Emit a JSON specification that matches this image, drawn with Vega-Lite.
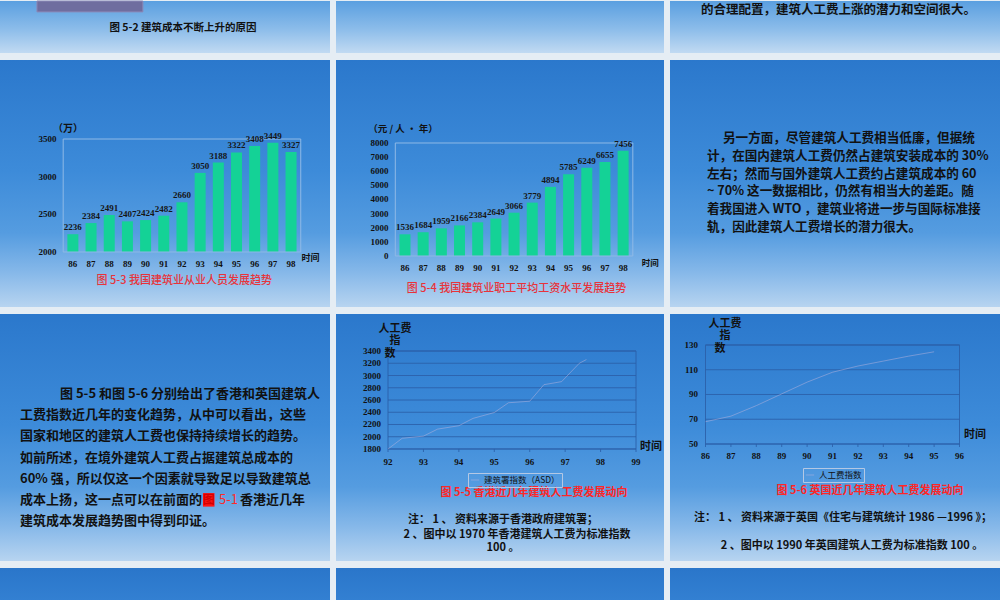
{
  "$schema": "https://vega.github.io/schema/vega-lite/v6.json",
  "background": "#e5edf4",
  "padding": 0,
  "spacing": 7,
  "config": {
    "view": {"stroke": null},
    "text": {"font": "Noto Sans CJK SC"}
  },
  "resolve": {"scale": {"color": "independent", "x": "independent", "y": "independent"}, "legend": {"color": "independent"}},
  "datasets": {
    "workers": [{"year":86,"value":2236},{"year":87,"value":2384},{"year":88,"value":2491},{"year":89,"value":2407},{"year":90,"value":2424},{"year":91,"value":2482},{"year":92,"value":2660},{"year":93,"value":3050},{"year":94,"value":3188},{"year":95,"value":3322},{"year":96,"value":3408},{"year":97,"value":3449},{"year":98,"value":3327}],
    "wages": [{"year":86,"value":1536},{"year":87,"value":1684},{"year":88,"value":1959},{"year":89,"value":2166},{"year":90,"value":2384},{"year":91,"value":2649},{"year":92,"value":3066},{"year":93,"value":3779},{"year":94,"value":4894},{"year":95,"value":5785},{"year":96,"value":6249},{"year":97,"value":6655},{"year":98,"value":7456}],
    "workersTicks": [{"tick":2000},{"tick":2500},{"tick":3000},{"tick":3500}],
    "wagesTicks": [{"tick":0},{"tick":1000},{"tick":2000},{"tick":3000},{"tick":4000},{"tick":5000},{"tick":6000},{"tick":7000},{"tick":8000}],
    "hk": [{"year":92.0,"index":1800},{"year":92.4,"index":1975},{"year":93.0,"index":2010},{"year":93.4,"index":2125},{"year":94.0,"index":2180},{"year":94.4,"index":2300},{"year":95.0,"index":2395},{"year":95.4,"index":2555},{"year":96.0,"index":2580},{"year":96.4,"index":2850},{"year":96.9,"index":2900},{"year":97.4,"index":3200},{"year":97.6,"index":3260}],
    "uk": [{"year":86,"index":68},{"year":87,"index":72.5},{"year":88,"index":81},{"year":89,"index":90.5},{"year":90,"index":100},{"year":91,"index":108},{"year":92,"index":113},{"year":93,"index":117},{"year":94,"index":121},{"year":95,"index":124.5}],
    "hkgrid": [{"v":1800},{"v":2000},{"v":2200},{"v":2400},{"v":2600},{"v":2800},{"v":3000},{"v":3200},{"v":3400}],
    "ukgrid": [{"v":50},{"v":70},{"v":90},{"v":110},{"v":130}],
    "hkyears": [{"year":92},{"year":93},{"year":94},{"year":95},{"year":96},{"year":97},{"year":98},{"year":99}],
    "ukyears": [{"year":86},{"year":87},{"year":88},{"year":89},{"year":90},{"year":91},{"year":92},{"year":93},{"year":94},{"year":95},{"year":96}],
    "textA1": [{"line":1,"text":"另一方面，尽管建筑人工费相当低廉，但据统"}],
    "textA": [
      {"line":2,"text":"计，在国内建筑人工费仍然占建筑安装成本的 30%"},
      {"line":3,"text":"左右；然而与国外建筑人工费约占建筑成本的 60"},
      {"line":4,"text":"~ 70% 这一数据相比，仍然有相当大的差距。随"},
      {"line":5,"text":"着我国进入 WTO ，建筑业将进一步与国际标准接"},
      {"line":6,"text":"轨，因此建筑人工费增长的潜力很大。"}
    ],
    "textB1": [{"line":1,"text":"图 5-5 和图 5-6 分别给出了香港和英国建筑人"}],
    "textB": [
      {"line":2,"text":"工费指数近几年的变化趋势，从中可以看出，这些"},
      {"line":3,"text":"国家和地区的建筑人工费也保持持续增长的趋势。"},
      {"line":4,"text":"如前所述，在境外建筑人工费占据建筑总成本的"},
      {"line":5,"text":"60% 强，所以仅这一个因素就导致足以导致建筑总"},
      {"line":6,"text":"成本上扬，这一点可以在前面的"},
      {"line":7,"text":"建筑成本发展趋势图中得到印证。"}
    ]
  },
  "vconcat": [
    {
      "bounds": "flush",
      "spacing": 6,
      "resolve": {"scale": {"color": "independent", "x": "independent", "y": "independent"}, "legend": {"color": "independent"}},
      "hconcat": [
        {
          "width": 330, "height": 52,
          "view": {"stroke": null, "fill": {"gradient": "linear", "x1": 0, "y1": 0, "x2": 0, "y2": 1, "stops": [{"offset": 0, "color": "#5a9fe0"}, {"offset": 0.55, "color": "#8dbdea"}, {"offset": 1, "color": "#c1daf2"}]}},
          "layer": [
            {
              "data": {"values": [{}]},
              "mark": {"type": "rect", "fill": "#6f6d9f", "stroke": "#8b89b8", "strokeWidth": 1},
              "encoding": {
                "x": {"datum": 0.112, "type": "quantitative", "scale": {"domain": [0, 1], "nice": false, "zero": false}, "axis": null},
                "x2": {"datum": 0.433},
                "y": {"datum": 0, "type": "quantitative", "scale": {"domain": [0, 1], "nice": false, "zero": false, "reverse": true}, "axis": null},
                "y2": {"datum": 0.21}
              }
            },
            {
              "data": {"values": [{"text": "图 5-2  建筑成本不断上升的原因"}]},
              "mark": {"type": "text", "fontSize": 10.5, "fontWeight": "bold", "color": "#111111", "align": "center", "baseline": "middle"},
              "encoding": {
                "x": {"datum": 0.5545, "type": "quantitative", "scale": {"domain": [0, 1], "nice": false, "zero": false}, "axis": null},
                "y": {"datum": 0.519, "type": "quantitative", "scale": {"domain": [0, 1], "nice": false, "zero": false, "reverse": true}, "axis": null},
                "text": {"field": "text"}
              }
            }
          ]
        },
        {
          "width": 328, "height": 52,
          "view": {"stroke": null, "fill": {"gradient": "linear", "x1": 0, "y1": 0, "x2": 0, "y2": 1, "stops": [{"offset": 0, "color": "#5a9fe0"}, {"offset": 0.55, "color": "#8dbdea"}, {"offset": 1, "color": "#c1daf2"}]}},
          "data": {"values": [{}]},
          "mark": {"type": "point", "opacity": 0},
          "encoding": {}
        },
        {
          "width": 330, "height": 52,
          "view": {"stroke": null, "fill": {"gradient": "linear", "x1": 0, "y1": 0, "x2": 0, "y2": 1, "stops": [{"offset": 0, "color": "#5a9fe0"}, {"offset": 0.55, "color": "#8dbdea"}, {"offset": 1, "color": "#c1daf2"}]}},
          "data": {"values": [{"text": "的合理配置，建筑人工费上涨的潜力和空间很大。"}]},
          "mark": {"type": "text", "fontSize": 12.5, "fontWeight": "bold", "color": "#111111", "align": "left", "baseline": "middle"},
          "encoding": {
            "x": {"datum": 0.094, "type": "quantitative", "scale": {"domain": [0, 1], "nice": false, "zero": false}, "axis": null},
            "y": {"datum": 0.173, "type": "quantitative", "scale": {"domain": [0, 1], "nice": false, "zero": false, "reverse": true}, "axis": null},
            "text": {"field": "text"}
          }
        }
      ]
    },
    {
      "bounds": "flush",
      "spacing": 6,
      "resolve": {"scale": {"color": "independent", "x": "independent", "y": "independent"}, "legend": {"color": "independent"}},
      "hconcat": [
        {
          "width": 330, "height": 247,
          "view": {"stroke": null, "fill": {"gradient": "linear", "x1": 0, "y1": 0, "x2": 0, "y2": 1, "stops": [{"offset": 0, "color": "#2b78cc"}, {"offset": 0.45, "color": "#3d8bd9"}, {"offset": 0.7, "color": "#559ce0"}, {"offset": 0.86, "color": "#86b8e9"}, {"offset": 1, "color": "#b7d4f0"}]}},
          "data": {"name": "workers"},
          "layer": [
            {
              "mark": {"type": "bar", "size": 11, "color": "#14d296"},
              "encoding": {
                "x": {"field": "year", "type": "quantitative", "scale": {"domain": [82.267, 99.867], "nice": false, "zero": false}, "axis": null},
                "y": {"field": "value", "type": "quantitative", "scale": {"domain": [1269.9, 4548.7], "nice": false, "zero": false}, "axis": null},
                "y2": {"datum": 2000}
              }
            },
            {
              "data": {"values": [{}]},
              "mark": {"type": "rect", "fill": "transparent", "stroke": "#8fb9e6", "strokeWidth": 1},
              "encoding": {
                "x": {"datum": 85.467, "type": "quantitative", "scale": {"domain": [82.267, 99.867], "nice": false, "zero": false}, "axis": null},
                "x2": {"datum": 98.533},
                "y": {"datum": 2000, "type": "quantitative", "scale": {"domain": [1269.9, 4548.7], "nice": false, "zero": false}, "axis": null},
                "y2": {"datum": 3500}
              }
            },
            {
              "mark": {"type": "text", "font": "Liberation Serif", "fontWeight": "bold", "fontSize": 9, "color": "#161616", "baseline": "bottom", "dy": -2},
              "encoding": {
                "x": {"field": "year", "type": "quantitative", "scale": {"domain": [82.267, 99.867], "nice": false, "zero": false}, "axis": null},
                "y": {"field": "value", "type": "quantitative", "scale": {"domain": [1269.9, 4548.7], "nice": false, "zero": false}, "axis": null},
                "text": {"field": "value"}
              }
            },
            {
              "mark": {"type": "text", "font": "Liberation Serif", "fontWeight": "bold", "fontSize": 9, "color": "#111111", "baseline": "middle"},
              "encoding": {
                "x": {"field": "year", "type": "quantitative", "scale": {"domain": [82.267, 99.867], "nice": false, "zero": false}, "axis": null},
                "y": {"datum": 1840.6, "type": "quantitative", "scale": {"domain": [1269.9, 4548.7], "nice": false, "zero": false}, "axis": null},
                "text": {"field": "year"}
              }
            },
            {
              "data": {"name": "workersTicks"},
              "mark": {"type": "text", "font": "Liberation Serif", "fontWeight": "bold", "fontSize": 9, "color": "#111111", "align": "right", "baseline": "middle"},
              "encoding": {
                "x": {"datum": 85.094, "type": "quantitative", "scale": {"domain": [82.267, 99.867], "nice": false, "zero": false}, "axis": null},
                "y": {"field": "tick", "type": "quantitative", "scale": {"domain": [1269.9, 4548.7], "nice": false, "zero": false}, "axis": null},
                "text": {"field": "tick"}
              }
            },
            {
              "data": {"values": [{}]},
              "mark": {"type": "text", "text": "（万）", "fontSize": 10, "fontWeight": "bold", "color": "#111111", "baseline": "middle"},
              "encoding": {
                "x": {"datum": 85.73, "type": "quantitative", "scale": {"domain": [82.267, 99.867], "nice": false, "zero": false}, "axis": null},
                "y": {"datum": 3632.7, "type": "quantitative", "scale": {"domain": [1269.9, 4548.7], "nice": false, "zero": false}, "axis": null}
              }
            },
            {
              "data": {"values": [{}]},
              "mark": {"type": "text", "text": "时间", "fontSize": 9, "fontWeight": "bold", "color": "#111111", "baseline": "middle"},
              "encoding": {
                "x": {"datum": 99.07, "type": "quantitative", "scale": {"domain": [82.267, 99.867], "nice": false, "zero": false}, "axis": null},
                "y": {"datum": 1920, "type": "quantitative", "scale": {"domain": [1269.9, 4548.7], "nice": false, "zero": false}, "axis": null}
              }
            },
            {
              "data": {"values": [{}]},
              "mark": {"type": "text", "text": "图 5-3  我国建筑业从业人员发展趋势", "fontSize": 11, "fontWeight": 500, "color": "#e8333a", "baseline": "middle"},
              "encoding": {
                "x": {"datum": 92.13, "type": "quantitative", "scale": {"domain": [82.267, 99.867], "nice": false, "zero": false}, "axis": null},
                "y": {"datum": 1614.9, "type": "quantitative", "scale": {"domain": [1269.9, 4548.7], "nice": false, "zero": false}, "axis": null}
              }
            }
          ]
        },
        {
          "width": 328, "height": 247,
          "view": {"stroke": null, "fill": {"gradient": "linear", "x1": 0, "y1": 0, "x2": 0, "y2": 1, "stops": [{"offset": 0, "color": "#2b78cc"}, {"offset": 0.45, "color": "#3d8bd9"}, {"offset": 0.7, "color": "#559ce0"}, {"offset": 0.86, "color": "#86b8e9"}, {"offset": 1, "color": "#b7d4f0"}]}},
          "data": {"name": "wages"},
          "layer": [
            {
              "mark": {"type": "bar", "size": 11, "color": "#14d296"},
              "encoding": {
                "x": {"field": "year", "type": "quantitative", "scale": {"domain": [82.48, 99.973], "nice": false, "zero": false}, "axis": null},
                "y": {"field": "value", "type": "quantitative", "scale": {"domain": [-3610.6, 13876], "nice": false, "zero": false}, "axis": null},
                "y2": {"datum": 0}
              }
            },
            {
              "data": {"values": [{}]},
              "mark": {"type": "rect", "fill": "transparent", "stroke": "#8fb9e6", "strokeWidth": 1},
              "encoding": {
                "x": {"datum": 85.467, "type": "quantitative", "scale": {"domain": [82.48, 99.973], "nice": false, "zero": false}, "axis": null},
                "x2": {"datum": 98.533},
                "y": {"datum": 0, "type": "quantitative", "scale": {"domain": [-3610.6, 13876], "nice": false, "zero": false}, "axis": null},
                "y2": {"datum": 8000}
              }
            },
            {
              "mark": {"type": "text", "font": "Liberation Serif", "fontWeight": "bold", "fontSize": 9, "color": "#161616", "baseline": "bottom", "dy": -2},
              "encoding": {
                "x": {"field": "year", "type": "quantitative", "scale": {"domain": [82.48, 99.973], "nice": false, "zero": false}, "axis": null},
                "y": {"field": "value", "type": "quantitative", "scale": {"domain": [-3610.6, 13876], "nice": false, "zero": false}, "axis": null},
                "text": {"field": "value"}
              }
            },
            {
              "mark": {"type": "text", "font": "Liberation Serif", "fontWeight": "bold", "fontSize": 9, "color": "#111111", "baseline": "middle"},
              "encoding": {
                "x": {"field": "year", "type": "quantitative", "scale": {"domain": [82.48, 99.973], "nice": false, "zero": false}, "axis": null},
                "y": {"datum": -849.6, "type": "quantitative", "scale": {"domain": [-3610.6, 13876], "nice": false, "zero": false}, "axis": null},
                "text": {"field": "year"}
              }
            },
            {
              "data": {"name": "wagesTicks"},
              "mark": {"type": "text", "font": "Liberation Serif", "fontWeight": "bold", "fontSize": 9, "color": "#111111", "align": "right", "baseline": "middle"},
              "encoding": {
                "x": {"datum": 85.093, "type": "quantitative", "scale": {"domain": [82.48, 99.973], "nice": false, "zero": false}, "axis": null},
                "y": {"field": "tick", "type": "quantitative", "scale": {"domain": [-3610.6, 13876], "nice": false, "zero": false}, "axis": null},
                "text": {"field": "tick"}
              }
            },
            {
              "data": {"values": [{}]},
              "mark": {"type": "text", "text": "（元 / 人 · 年）", "fontSize": 9.5, "fontWeight": "bold", "color": "#111111", "baseline": "middle"},
              "encoding": {
                "x": {"datum": 85.89, "type": "quantitative", "scale": {"domain": [82.48, 99.973], "nice": false, "zero": false}, "axis": null},
                "y": {"datum": 8991, "type": "quantitative", "scale": {"domain": [-3610.6, 13876], "nice": false, "zero": false}, "axis": null}
              }
            },
            {
              "data": {"values": [{}]},
              "mark": {"type": "text", "text": "时间", "fontSize": 8.5, "fontWeight": "bold", "color": "#111111", "baseline": "middle"},
              "encoding": {
                "x": {"datum": 99.49, "type": "quantitative", "scale": {"domain": [82.48, 99.973], "nice": false, "zero": false}, "axis": null},
                "y": {"datum": -495.6, "type": "quantitative", "scale": {"domain": [-3610.6, 13876], "nice": false, "zero": false}, "axis": null}
              }
            },
            {
              "data": {"values": [{}]},
              "mark": {"type": "text", "text": "图 5-4  我国建筑业职工平均工资水平发展趋势", "fontSize": 11, "fontWeight": 500, "color": "#e8333a", "baseline": "middle"},
              "encoding": {
                "x": {"datum": 92.13, "type": "quantitative", "scale": {"domain": [82.48, 99.973], "nice": false, "zero": false}, "axis": null},
                "y": {"datum": -2336, "type": "quantitative", "scale": {"domain": [-3610.6, 13876], "nice": false, "zero": false}, "axis": null}
              }
            }
          ]
        },
        {
          "width": 330, "height": 247,
          "view": {"stroke": null, "fill": {"gradient": "linear", "x1": 0, "y1": 0, "x2": 0, "y2": 1, "stops": [{"offset": 0, "color": "#2b78cc"}, {"offset": 0.45, "color": "#3d8bd9"}, {"offset": 0.7, "color": "#559ce0"}, {"offset": 0.86, "color": "#86b8e9"}, {"offset": 1, "color": "#b7d4f0"}]}},
          "layer": [
            {
              "data": {"name": "textA1"},
              "mark": {"type": "text", "align": "left", "baseline": "middle", "fontSize": 12.6, "fontWeight": "bold", "color": "#111111"},
              "encoding": {
                "x": {"datum": 0.1606, "type": "quantitative", "scale": {"domain": [0, 1], "nice": false, "zero": false}, "axis": null},
                "y": {"field": "line", "type": "quantitative", "scale": {"domain": [-3.382, 10.494], "nice": false, "zero": false, "reverse": true}, "axis": null},
                "text": {"field": "text"}
              }
            },
            {
              "data": {"name": "textA"},
              "mark": {"type": "text", "align": "left", "baseline": "middle", "fontSize": 12.6, "fontWeight": "bold", "color": "#111111"},
              "encoding": {
                "x": {"datum": 0.112, "type": "quantitative", "scale": {"domain": [0, 1], "nice": false, "zero": false}, "axis": null},
                "y": {"field": "line", "type": "quantitative", "scale": {"domain": [-3.382, 10.494], "nice": false, "zero": false, "reverse": true}, "axis": null},
                "text": {"field": "text"}
              }
            }
          ]
        }
      ]
    },
    {
      "bounds": "flush",
      "spacing": 6,
      "resolve": {"scale": {"color": "independent", "x": "independent", "y": "independent"}, "legend": {"color": "independent"}},
      "hconcat": [
        {
          "width": 330, "height": 247,
          "view": {"stroke": null, "fill": {"gradient": "linear", "x1": 0, "y1": 0, "x2": 0, "y2": 1, "stops": [{"offset": 0, "color": "#2b78cc"}, {"offset": 0.45, "color": "#3d8bd9"}, {"offset": 0.7, "color": "#559ce0"}, {"offset": 0.86, "color": "#86b8e9"}, {"offset": 1, "color": "#b7d4f0"}]}},
          "layer": [
            {
              "data": {"name": "textB1"},
              "mark": {"type": "text", "align": "left", "baseline": "middle", "fontSize": 13, "fontWeight": "bold", "color": "#111111"},
              "encoding": {
                "x": {"datum": 0.1818, "type": "quantitative", "scale": {"domain": [0, 1], "nice": false, "zero": false}, "axis": null},
                "y": {"field": "line", "type": "quantitative", "scale": {"domain": [-2.779, 8.889], "nice": false, "zero": false, "reverse": true}, "axis": null},
                "text": {"field": "text"}
              }
            },
            {
              "data": {"name": "textB"},
              "mark": {"type": "text", "align": "left", "baseline": "middle", "fontSize": 13, "fontWeight": "bold", "color": "#111111"},
              "encoding": {
                "x": {"datum": 0.0606, "type": "quantitative", "scale": {"domain": [0, 1], "nice": false, "zero": false}, "axis": null},
                "y": {"field": "line", "type": "quantitative", "scale": {"domain": [-2.779, 8.889], "nice": false, "zero": false, "reverse": true}, "axis": null},
                "text": {"field": "text"}
              }
            },
            {
              "data": {"values": [{}]},
              "mark": {"type": "rect", "fill": "#ff1414"},
              "encoding": {
                "x": {"datum": 0.615, "type": "quantitative", "scale": {"domain": [0, 1], "nice": false, "zero": false}, "axis": null},
                "x2": {"datum": 0.65},
                "y": {"datum": 5.68, "type": "quantitative", "scale": {"domain": [-2.779, 8.889], "nice": false, "zero": false, "reverse": true}, "axis": null},
                "y2": {"datum": 6.32}
              }
            },
            {
              "data": {"values": [{"line": 6, "text": "图"}]},
              "mark": {"type": "text", "align": "center", "baseline": "middle", "fontSize": 12, "fontWeight": "bold", "color": "#d40000"},
              "encoding": {
                "x": {"datum": 0.6325, "type": "quantitative", "scale": {"domain": [0, 1], "nice": false, "zero": false}, "axis": null},
                "y": {"field": "line", "type": "quantitative", "scale": {"domain": [-2.779, 8.889], "nice": false, "zero": false, "reverse": true}, "axis": null},
                "text": {"field": "text"}
              }
            },
            {
              "data": {"values": [{"line": 6, "text": "5-1"}]},
              "mark": {"type": "text", "align": "left", "baseline": "middle", "fontSize": 13, "color": "#ff2a2a"},
              "encoding": {
                "x": {"datum": 0.6636, "type": "quantitative", "scale": {"domain": [0, 1], "nice": false, "zero": false}, "axis": null},
                "y": {"field": "line", "type": "quantitative", "scale": {"domain": [-2.779, 8.889], "nice": false, "zero": false, "reverse": true}, "axis": null},
                "text": {"field": "text"}
              }
            },
            {
              "data": {"values": [{"line": 6, "text": "香港近几年"}]},
              "mark": {"type": "text", "align": "left", "baseline": "middle", "fontSize": 13, "fontWeight": "bold", "color": "#111111"},
              "encoding": {
                "x": {"datum": 0.7273, "type": "quantitative", "scale": {"domain": [0, 1], "nice": false, "zero": false}, "axis": null},
                "y": {"field": "line", "type": "quantitative", "scale": {"domain": [-2.779, 8.889], "nice": false, "zero": false, "reverse": true}, "axis": null},
                "text": {"field": "text"}
              }
            }
          ]
        },
        {
          "width": 328, "height": 247,
          "view": {"stroke": null, "fill": {"gradient": "linear", "x1": 0, "y1": 0, "x2": 0, "y2": 1, "stops": [{"offset": 0, "color": "#2b78cc"}, {"offset": 0.45, "color": "#3d8bd9"}, {"offset": 0.7, "color": "#559ce0"}, {"offset": 0.86, "color": "#86b8e9"}, {"offset": 1, "color": "#b7d4f0"}]}},
          "layer": [
            {
              "data": {"name": "hkgrid"},
              "mark": {"type": "rule", "color": "#2b5fa8", "strokeWidth": 1, "opacity": 0.85},
              "encoding": {
                "x": {"datum": 92, "type": "quantitative", "scale": {"domain": [90.532, 99.79], "nice": false, "zero": false}, "axis": null},
                "x2": {"datum": 99},
                "y": {"field": "v", "type": "quantitative", "scale": {"domain": [-28.6, 4004.1], "nice": false, "zero": false}, "axis": null}
              }
            },
            {
              "data": {"values": [{}]},
              "mark": {"type": "rect", "fill": "transparent", "stroke": "#2b5fa8", "strokeWidth": 1, "opacity": 0.85},
              "encoding": {
                "x": {"datum": 92, "type": "quantitative", "scale": {"domain": [90.532, 99.79], "nice": false, "zero": false}, "axis": null},
                "x2": {"datum": 99},
                "y": {"datum": 1800, "type": "quantitative", "scale": {"domain": [-28.6, 4004.1], "nice": false, "zero": false}, "axis": null},
                "y2": {"datum": 3400}
              }
            },
            {
              "data": {"name": "hkyears"},
              "mark": {"type": "rule", "color": "#2b5fa8", "strokeWidth": 1, "opacity": 0.85},
              "encoding": {
                "x": {"field": "year", "type": "quantitative", "scale": {"domain": [90.532, 99.79], "nice": false, "zero": false}, "axis": null},
                "y": {"datum": 1800, "type": "quantitative", "scale": {"domain": [-28.6, 4004.1], "nice": false, "zero": false}, "axis": null},
                "y2": {"datum": 1751}
              }
            },
            {
              "data": {"name": "hk"},
              "mark": {"type": "line", "strokeWidth": 1, "opacity": 0.45},
              "encoding": {
                "x": {"field": "year", "type": "quantitative", "scale": {"domain": [90.532, 99.79], "nice": false, "zero": false}, "axis": null},
                "y": {"field": "index", "type": "quantitative", "scale": {"domain": [-28.6, 4004.1], "nice": false, "zero": false}, "axis": null},
                "color": {"datum": "建筑署指数（ASD）", "type": "nominal", "scale": {"range": ["#c6b8de"]}, "legend": {"orient": "none", "legendX": 132, "legendY": 159, "title": null, "symbolType": "stroke", "symbolSize": 70, "symbolStrokeWidth": 1, "labelFont": "Noto Sans CJK SC", "labelFontSize": 8.5, "labelColor": "#111111", "strokeColor": "#b4c8e4", "padding": 2}}
              }
            },
            {
              "data": {"name": "hkyears"},
              "mark": {"type": "text", "font": "Liberation Serif", "fontWeight": "bold", "fontSize": 9, "color": "#111111", "baseline": "middle"},
              "encoding": {
                "x": {"field": "year", "type": "quantitative", "scale": {"domain": [90.532, 99.79], "nice": false, "zero": false}, "axis": null},
                "y": {"datum": 1587.7, "type": "quantitative", "scale": {"domain": [-28.6, 4004.1], "nice": false, "zero": false}, "axis": null},
                "text": {"field": "year"}
              }
            },
            {
              "data": {"name": "hkgrid"},
              "mark": {"type": "text", "font": "Liberation Serif", "fontWeight": "bold", "fontSize": 9, "color": "#111111", "align": "right", "baseline": "middle"},
              "encoding": {
                "x": {"datum": 91.802, "type": "quantitative", "scale": {"domain": [90.532, 99.79], "nice": false, "zero": false}, "axis": null},
                "y": {"field": "v", "type": "quantitative", "scale": {"domain": [-28.6, 4004.1], "nice": false, "zero": false}, "axis": null},
                "text": {"field": "v"}
              }
            },
            {
              "data": {"values": [{}]},
              "mark": {"type": "text", "text": "人工费", "fontSize": 11, "fontWeight": "bold", "color": "#111111", "baseline": "middle"},
              "encoding": {
                "x": {"datum": 92.197, "type": "quantitative", "scale": {"domain": [90.532, 99.79], "nice": false, "zero": false}, "axis": null},
                "y": {"datum": 3759.2, "type": "quantitative", "scale": {"domain": [-28.6, 4004.1], "nice": false, "zero": false}, "axis": null}
              }
            },
            {
              "data": {"values": [{}]},
              "mark": {"type": "text", "text": "指", "fontSize": 11, "fontWeight": "bold", "color": "#111111", "baseline": "middle"},
              "encoding": {
                "x": {"datum": 92.197, "type": "quantitative", "scale": {"domain": [90.532, 99.79], "nice": false, "zero": false}, "axis": null},
                "y": {"datum": 3563.3, "type": "quantitative", "scale": {"domain": [-28.6, 4004.1], "nice": false, "zero": false}, "axis": null}
              }
            },
            {
              "data": {"values": [{}]},
              "mark": {"type": "text", "text": "数", "fontSize": 11, "fontWeight": "bold", "color": "#111111", "baseline": "middle"},
              "encoding": {
                "x": {"datum": 92.056, "type": "quantitative", "scale": {"domain": [90.532, 99.79], "nice": false, "zero": false}, "axis": null},
                "y": {"datum": 3351, "type": "quantitative", "scale": {"domain": [-28.6, 4004.1], "nice": false, "zero": false}, "axis": null}
              }
            },
            {
              "data": {"values": [{}]},
              "mark": {"type": "text", "text": "时间", "fontSize": 11, "fontWeight": "bold", "color": "#111111", "baseline": "middle"},
              "encoding": {
                "x": {"datum": 99.423, "type": "quantitative", "scale": {"domain": [90.532, 99.79], "nice": false, "zero": false}, "axis": null},
                "y": {"datum": 1832.6, "type": "quantitative", "scale": {"domain": [-28.6, 4004.1], "nice": false, "zero": false}, "axis": null}
              }
            },
            {
              "data": {"values": [{}]},
              "mark": {"type": "text", "text": "图 5-5  香港近几年建筑人工费发展动向", "fontSize": 11, "fontWeight": "bold", "color": "#ff2626", "baseline": "middle"},
              "encoding": {
                "x": {"datum": 96.12, "type": "quantitative", "scale": {"domain": [90.532, 99.79], "nice": false, "zero": false}, "axis": null},
                "y": {"datum": 1081.6, "type": "quantitative", "scale": {"domain": [-28.6, 4004.1], "nice": false, "zero": false}, "axis": null}
              }
            },
            {
              "data": {"values": [{}]},
              "mark": {"type": "text", "text": "注： 1 、 资料来源于香港政府建筑署；", "fontSize": 11, "fontWeight": "bold", "color": "#111111", "baseline": "middle"},
              "encoding": {
                "x": {"datum": 95.245, "type": "quantitative", "scale": {"domain": [90.532, 99.79], "nice": false, "zero": false}, "axis": null},
                "y": {"datum": 640.7, "type": "quantitative", "scale": {"domain": [-28.6, 4004.1], "nice": false, "zero": false}, "axis": null}
              }
            },
            {
              "data": {"values": [{}]},
              "mark": {"type": "text", "text": "2 、图中以 1970 年香港建筑人工费为标准指数", "fontSize": 11, "fontWeight": "bold", "color": "#111111", "baseline": "middle"},
              "encoding": {
                "x": {"datum": 95.64, "type": "quantitative", "scale": {"domain": [90.532, 99.79], "nice": false, "zero": false}, "axis": null},
                "y": {"datum": 395.8, "type": "quantitative", "scale": {"domain": [-28.6, 4004.1], "nice": false, "zero": false}, "axis": null}
              }
            },
            {
              "data": {"values": [{}]},
              "mark": {"type": "text", "text": "100 。", "fontSize": 11, "fontWeight": "bold", "color": "#111111", "baseline": "middle"},
              "encoding": {
                "x": {"datum": 95.245, "type": "quantitative", "scale": {"domain": [90.532, 99.79], "nice": false, "zero": false}, "axis": null},
                "y": {"datum": 183.6, "type": "quantitative", "scale": {"domain": [-28.6, 4004.1], "nice": false, "zero": false}, "axis": null}
              }
            }
          ]
        },
        {
          "width": 330, "height": 247,
          "view": {"stroke": null, "fill": {"gradient": "linear", "x1": 0, "y1": 0, "x2": 0, "y2": 1, "stops": [{"offset": 0, "color": "#2b78cc"}, {"offset": 0.45, "color": "#3d8bd9"}, {"offset": 0.7, "color": "#559ce0"}, {"offset": 0.86, "color": "#86b8e9"}, {"offset": 1, "color": "#b7d4f0"}]}},
          "layer": [
            {
              "data": {"name": "ukgrid"},
              "mark": {"type": "rule", "color": "#2b5fa8", "strokeWidth": 1, "opacity": 0.85},
              "encoding": {
                "x": {"datum": 86, "type": "quantitative", "scale": {"domain": [84.602, 97.594], "nice": false, "zero": false}, "axis": null},
                "x2": {"datum": 96},
                "y": {"field": "v", "type": "quantitative", "scale": {"domain": [-44.545, 155.05], "nice": false, "zero": false}, "axis": null}
              }
            },
            {
              "data": {"values": [{}]},
              "mark": {"type": "rect", "fill": "transparent", "stroke": "#2b5fa8", "strokeWidth": 1, "opacity": 0.85},
              "encoding": {
                "x": {"datum": 86, "type": "quantitative", "scale": {"domain": [84.602, 97.594], "nice": false, "zero": false}, "axis": null},
                "x2": {"datum": 96},
                "y": {"datum": 50, "type": "quantitative", "scale": {"domain": [-44.545, 155.05], "nice": false, "zero": false}, "axis": null},
                "y2": {"datum": 130}
              }
            },
            {
              "data": {"name": "ukyears"},
              "mark": {"type": "rule", "color": "#2b5fa8", "strokeWidth": 1, "opacity": 0.85},
              "encoding": {
                "x": {"field": "year", "type": "quantitative", "scale": {"domain": [84.602, 97.594], "nice": false, "zero": false}, "axis": null},
                "y": {"datum": 50, "type": "quantitative", "scale": {"domain": [-44.545, 155.05], "nice": false, "zero": false}, "axis": null},
                "y2": {"datum": 47.58}
              }
            },
            {
              "data": {"name": "uk"},
              "mark": {"type": "line", "strokeWidth": 1, "opacity": 0.45},
              "encoding": {
                "x": {"field": "year", "type": "quantitative", "scale": {"domain": [84.602, 97.594], "nice": false, "zero": false}, "axis": null},
                "y": {"field": "index", "type": "quantitative", "scale": {"domain": [-44.545, 155.05], "nice": false, "zero": false}, "axis": null},
                "color": {"datum": "人工费指数", "type": "nominal", "scale": {"range": ["#c6b8de"]}, "legend": {"orient": "none", "legendX": 133, "legendY": 154, "title": null, "symbolType": "stroke", "symbolSize": 70, "symbolStrokeWidth": 1, "labelFont": "Noto Sans CJK SC", "labelFontSize": 8.5, "labelColor": "#111111", "strokeColor": "#b4c8e4", "padding": 2}}
              }
            },
            {
              "data": {"name": "ukyears"},
              "mark": {"type": "text", "font": "Liberation Serif", "fontWeight": "bold", "fontSize": 9, "color": "#111111", "baseline": "middle"},
              "encoding": {
                "x": {"field": "year", "type": "quantitative", "scale": {"domain": [84.602, 97.594], "nice": false, "zero": false}, "axis": null},
                "y": {"datum": 40.3, "type": "quantitative", "scale": {"domain": [-44.545, 155.05], "nice": false, "zero": false}, "axis": null},
                "text": {"field": "year"}
              }
            },
            {
              "data": {"name": "ukgrid"},
              "mark": {"type": "text", "font": "Liberation Serif", "fontWeight": "bold", "fontSize": 9, "color": "#111111", "align": "right", "baseline": "middle"},
              "encoding": {
                "x": {"datum": 85.704, "type": "quantitative", "scale": {"domain": [84.602, 97.594], "nice": false, "zero": false}, "axis": null},
                "y": {"field": "v", "type": "quantitative", "scale": {"domain": [-44.545, 155.05], "nice": false, "zero": false}, "axis": null},
                "text": {"field": "v"}
              }
            },
            {
              "data": {"values": [{}]},
              "mark": {"type": "text", "text": "人工费", "fontSize": 11, "fontWeight": "bold", "color": "#111111", "baseline": "middle"},
              "encoding": {
                "x": {"datum": 86.77, "type": "quantitative", "scale": {"domain": [84.602, 97.594], "nice": false, "zero": false}, "axis": null},
                "y": {"datum": 147.21, "type": "quantitative", "scale": {"domain": [-44.545, 155.05], "nice": false, "zero": false}, "axis": null}
              }
            },
            {
              "data": {"values": [{}]},
              "mark": {"type": "text", "text": "指", "fontSize": 11, "fontWeight": "bold", "color": "#111111", "baseline": "middle"},
              "encoding": {
                "x": {"datum": 86.77, "type": "quantitative", "scale": {"domain": [84.602, 97.594], "nice": false, "zero": false}, "axis": null},
                "y": {"datum": 137.27, "type": "quantitative", "scale": {"domain": [-44.545, 155.05], "nice": false, "zero": false}, "axis": null}
              }
            },
            {
              "data": {"values": [{}]},
              "mark": {"type": "text", "text": "数", "fontSize": 11, "fontWeight": "bold", "color": "#111111", "baseline": "middle"},
              "encoding": {
                "x": {"datum": 86.573, "type": "quantitative", "scale": {"domain": [84.602, 97.594], "nice": false, "zero": false}, "axis": null},
                "y": {"datum": 126.77, "type": "quantitative", "scale": {"domain": [-44.545, 155.05], "nice": false, "zero": false}, "axis": null}
              }
            },
            {
              "data": {"values": [{}]},
              "mark": {"type": "text", "text": "时间", "fontSize": 11, "fontWeight": "bold", "color": "#111111", "baseline": "middle"},
              "encoding": {
                "x": {"datum": 96.61, "type": "quantitative", "scale": {"domain": [84.602, 97.594], "nice": false, "zero": false}, "axis": null},
                "y": {"datum": 57.27, "type": "quantitative", "scale": {"domain": [-44.545, 155.05], "nice": false, "zero": false}, "axis": null}
              }
            },
            {
              "data": {"values": [{}]},
              "mark": {"type": "text", "text": "图 5-6  英国近几年建筑人工费发展动向", "fontSize": 11, "fontWeight": "bold", "color": "#ff2626", "baseline": "middle"},
              "encoding": {
                "x": {"datum": 92.476, "type": "quantitative", "scale": {"domain": [84.602, 97.594], "nice": false, "zero": false}, "axis": null},
                "y": {"datum": 12.02, "type": "quantitative", "scale": {"domain": [-44.545, 155.05], "nice": false, "zero": false}, "axis": null}
              }
            },
            {
              "data": {"values": [{}]},
              "mark": {"type": "text", "text": "注： 1 、 资料来源于英国《住宅与建筑统计 1986 —1996 》；", "fontSize": 11, "fontWeight": "bold", "color": "#111111", "baseline": "middle"},
              "encoding": {
                "x": {"datum": 91.413, "type": "quantitative", "scale": {"domain": [84.602, 97.594], "nice": false, "zero": false}, "axis": null},
                "y": {"datum": -9.8, "type": "quantitative", "scale": {"domain": [-44.545, 155.05], "nice": false, "zero": false}, "axis": null}
              }
            },
            {
              "data": {"values": [{}]},
              "mark": {"type": "text", "text": "2 、图中以 1990 年英国建筑人工费为标准指数 100 。", "fontSize": 11, "fontWeight": "bold", "color": "#111111", "baseline": "middle"},
              "encoding": {
                "x": {"datum": 91.767, "type": "quantitative", "scale": {"domain": [84.602, 97.594], "nice": false, "zero": false}, "axis": null},
                "y": {"datum": -32.4, "type": "quantitative", "scale": {"domain": [-44.545, 155.05], "nice": false, "zero": false}, "axis": null}
              }
            }
          ]
        }
      ]
    },
    {
      "bounds": "flush",
      "spacing": 6,
      "hconcat": [
        {
          "width": 330, "height": 33,
          "view": {"stroke": null, "fill": {"gradient": "linear", "x1": 0, "y1": 0, "x2": 0, "y2": 1, "stops": [{"offset": 0, "color": "#2a76ca"}, {"offset": 1, "color": "#3380d2"}]}},
          "data": {"values": [{}]},
          "mark": {"type": "point", "opacity": 0},
          "encoding": {}
        },
        {
          "width": 328, "height": 33,
          "view": {"stroke": null, "fill": {"gradient": "linear", "x1": 0, "y1": 0, "x2": 0, "y2": 1, "stops": [{"offset": 0, "color": "#2a76ca"}, {"offset": 1, "color": "#3380d2"}]}},
          "data": {"values": [{}]},
          "mark": {"type": "point", "opacity": 0},
          "encoding": {}
        },
        {
          "width": 330, "height": 33,
          "view": {"stroke": null, "fill": {"gradient": "linear", "x1": 0, "y1": 0, "x2": 0, "y2": 1, "stops": [{"offset": 0, "color": "#2a76ca"}, {"offset": 1, "color": "#3380d2"}]}},
          "data": {"values": [{}]},
          "mark": {"type": "point", "opacity": 0},
          "encoding": {}
        }
      ]
    }
  ]
}
